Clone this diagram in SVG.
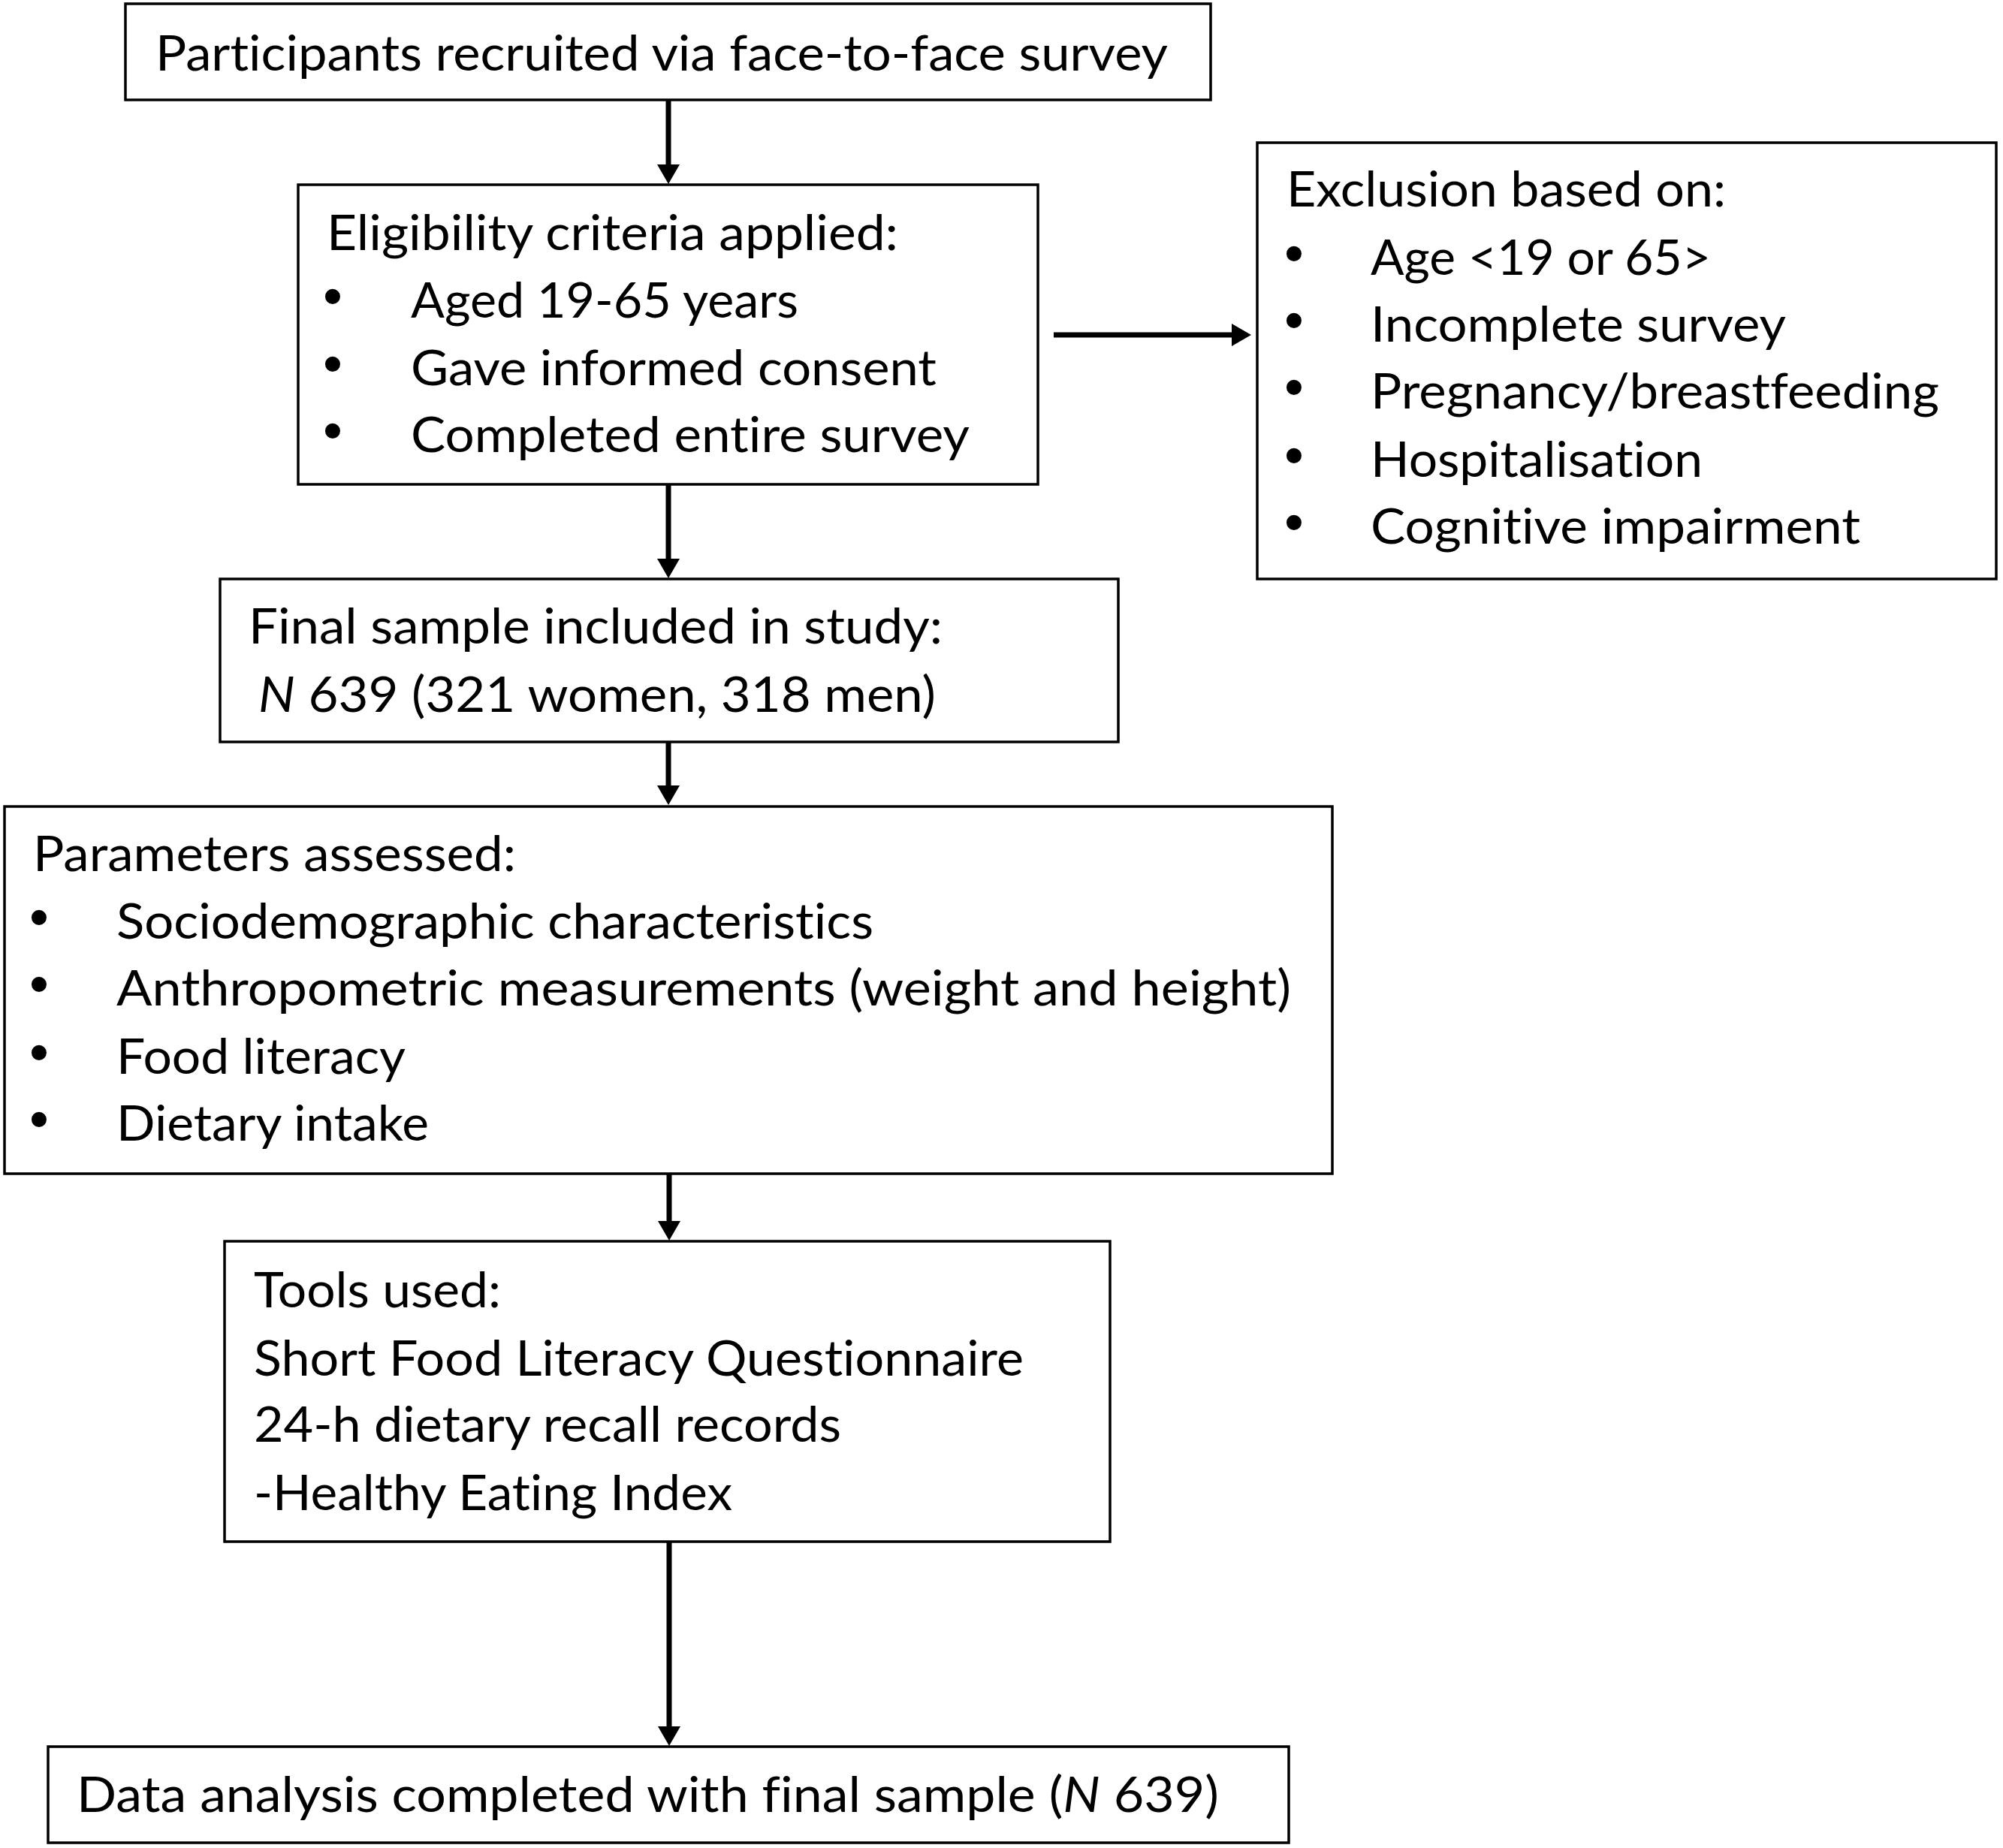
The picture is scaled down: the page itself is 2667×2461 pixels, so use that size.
<svg xmlns="http://www.w3.org/2000/svg" width="2667" height="2461" viewBox="0 0 2667 2461">
<style>
.box{fill:#fff;stroke:#000;stroke-width:3.5}
.t{font-family:Lato,"Liberation Sans",sans-serif;font-size:66px;fill:#000;font-variant-ligatures:none;font-feature-settings:"liga" 0,"clig" 0,"dlig" 0}
.b{font-family:"Liberation Sans",sans-serif;font-size:74px;fill:#000;text-anchor:middle}
.c{stroke:#000;stroke-width:7;fill:none}
</style>
<defs>
<marker id="ah" viewBox="0 0 26 30" markerWidth="26" markerHeight="30" refX="14" refY="15" orient="auto" markerUnits="userSpaceOnUse">
<path d="M0,0 L26,15 L0,30 Z" fill="#000"/>
</marker>
</defs>
<rect width="2667" height="2461" fill="#fff"/>
<g id="connectors">
<line class="c" x1="890" y1="133" x2="890" y2="233" marker-end="url(#ah)"/>
<line class="c" x1="890" y1="645" x2="890" y2="758" marker-end="url(#ah)"/>
<line class="c" x1="890" y1="988" x2="890" y2="1060" marker-end="url(#ah)"/>
<line class="c" x1="891" y1="1563" x2="891" y2="1640" marker-end="url(#ah)"/>
<line class="c" x1="891" y1="2053" x2="891" y2="2313" marker-end="url(#ah)"/>
<line class="c" x1="1403" y1="446" x2="1654" y2="446" marker-end="url(#ah)"/>
</g>
<g id="recruited">
<rect class="box" x="167" y="5" width="1445" height="128"/>
<text class="t" x="207" y="94" textLength="1348" lengthAdjust="spacingAndGlyphs">Participants recruited via face-to-face survey</text>
</g>
<g id="eligibility">
<rect class="box" x="397" y="246" width="985" height="399"/>
<text class="t" x="435" y="333" textLength="761" lengthAdjust="spacingAndGlyphs">Eligibility criteria applied:</text>
<text class="b" x="443" y="420">•</text>
<text class="b" x="443" y="510">•</text>
<text class="b" x="443" y="599">•</text>
<text class="t" x="547" y="423" textLength="516" lengthAdjust="spacingAndGlyphs">Aged 19-65 years</text>
<text class="t" x="547" y="513" textLength="700" lengthAdjust="spacingAndGlyphs">Gave informed consent</text>
<text class="t" x="547" y="602" textLength="744" lengthAdjust="spacingAndGlyphs">Completed entire survey</text>
</g>
<g id="exclusion">
<rect class="box" x="1674" y="190" width="984" height="581"/>
<text class="t" x="1713" y="275" textLength="585" lengthAdjust="spacingAndGlyphs">Exclusion based on:</text>
<text class="b" x="1723" y="363">•</text>
<text class="b" x="1723" y="452">•</text>
<text class="b" x="1723" y="541">•</text>
<text class="b" x="1723" y="632">•</text>
<text class="b" x="1723" y="721">•</text>
<text class="t" x="1825" y="366" textLength="453" lengthAdjust="spacingAndGlyphs">Age &lt;19 or 65&gt;</text>
<text class="t" x="1825" y="455" textLength="553" lengthAdjust="spacingAndGlyphs">Incomplete survey</text>
<text class="t" x="1825" y="544" textLength="757" lengthAdjust="spacingAndGlyphs">Pregnancy/breastfeeding</text>
<text class="t" x="1825" y="635" textLength="442" lengthAdjust="spacingAndGlyphs">Hospitalisation</text>
<text class="t" x="1825" y="724" textLength="652" lengthAdjust="spacingAndGlyphs">Cognitive impairment</text>
</g>
<g id="final-sample">
<rect class="box" x="293" y="771" width="1196" height="217"/>
<text class="t" x="331" y="857" textLength="924" lengthAdjust="spacingAndGlyphs">Final sample included in study:</text>
<text class="t" x="344" y="948" textLength="902" lengthAdjust="spacingAndGlyphs"><tspan font-style="italic">N</tspan> 639 (321 women, 318 men)</text>
</g>
<g id="parameters">
<rect class="box" x="6" y="1074" width="1768" height="489"/>
<text class="t" x="44" y="1160" textLength="643" lengthAdjust="spacingAndGlyphs">Parameters assessed:</text>
<text class="b" x="52" y="1247">•</text>
<text class="b" x="52" y="1336">•</text>
<text class="b" x="52" y="1427">•</text>
<text class="b" x="52" y="1516">•</text>
<text class="t" x="155" y="1250" textLength="1008" lengthAdjust="spacingAndGlyphs">Sociodemographic characteristics</text>
<text class="t" x="155" y="1339" textLength="1564" lengthAdjust="spacingAndGlyphs">Anthropometric measurements (weight and height)</text>
<text class="t" x="155" y="1430" textLength="385" lengthAdjust="spacingAndGlyphs">Food literacy</text>
<text class="t" x="155" y="1519" textLength="416" lengthAdjust="spacingAndGlyphs">Dietary intake</text>
</g>
<g id="tools">
<rect class="box" x="299" y="1653" width="1179" height="400"/>
<text class="t" x="338" y="1741" textLength="329" lengthAdjust="spacingAndGlyphs">Tools used:</text>
<text class="t" x="338" y="1832" textLength="1025" lengthAdjust="spacingAndGlyphs">Short Food Literacy Questionnaire</text>
<text class="t" x="338" y="1920" textLength="782" lengthAdjust="spacingAndGlyphs">24-h dietary recall records</text>
<text class="t" x="338" y="2011" textLength="637" lengthAdjust="spacingAndGlyphs">-Healthy Eating Index</text>
</g>
<g id="analysis">
<rect class="box" x="64" y="2326" width="1652" height="128"/>
<text class="t" x="102" y="2413" textLength="1521" lengthAdjust="spacingAndGlyphs">Data analysis completed with final sample (<tspan font-style="italic">N</tspan> 639)</text>
</g>
</svg>
